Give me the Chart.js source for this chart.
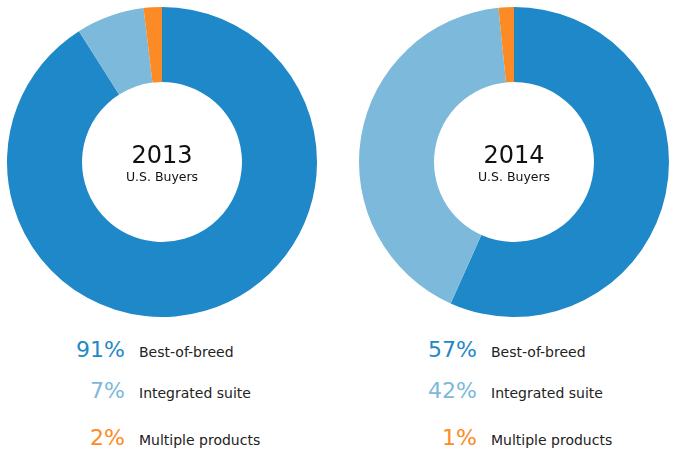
<!DOCTYPE html>
<html>
<head>
<meta charset="utf-8">
<script src="https://cdn.jsdelivr.net/npm/chart.js@4/dist/chart.umd.min.js"></script>
<style>
  body { margin: 0; background: #fff; font-family: 'DejaVu Sans', Verdana, sans-serif; }
  #wrap { position: relative; width: 675px; height: 470px; }
  canvas { position: absolute; }
  .center { position: absolute; width: 160px; text-align: center; color: #111; }
  .center .year { font-size: 24px; line-height: 24px; }
  .center .sub { font-size: 12.5px; line-height: 14px; margin-top: 3px; }
  .row { position: absolute; white-space: nowrap; }
  .row .pct { position: absolute; right: 0; font-size: 22px; bottom: 0; line-height: 22px; }
  .row .lbl { position: absolute; left: 14px; font-size: 14px; bottom: 2px; line-height: 14px; color: #222; }
</style>
</head>
<body>
<div id="wrap">
  <canvas id="c2013" width="310" height="310" style="left:7px;top:7px"></canvas>
  <canvas id="c2014" width="310" height="310" style="left:359px;top:7px"></canvas>
</div>
<script>
const categories = ['Best-of-breed', 'Integrated suite', 'Multiple products'];
const years = ['2013', '2014'];
// slice sizes as drawn
const shares2013 = [91, 7.1, 1.9];
const shares2014 = [56.7, 41.7, 1.6];
// rounded percentages printed in the legend
const labels2013 = [91, 7, 2];
const labels2014 = [57, 42, 1];
const subtitle = 'U.S. Buyers';
const colors = ['#1f88c8', '#7db9da', '#fd8b25'];

const wrap = document.getElementById('wrap');

function makeChart(id, values) {
    const existing = Chart.getChart(id);
    if (existing) existing.destroy();
    return new Chart(document.getElementById(id), {
        type: 'doughnut',
        data: { labels: categories, datasets: [{ data: values, backgroundColor: colors, borderWidth: 0 }] },
        options: {
            responsive: false,
            animation: false,
            cutout: '51.6%',
            layout: { padding: 0 },
            plugins: { legend: { display: false }, tooltip: { enabled: false } }
        }
    });
}

function addText(cx, year, values) {
    const c = document.createElement('div');
    c.className = 'center';
    c.style.left = (cx - 80) + 'px';
    c.style.top = '143px';
    c.innerHTML = '<div class="year">' + year + '</div><div class="sub">' + subtitle + '</div>';
    wrap.appendChild(c);

    const baselines = [361, 402, 449];
    values.forEach((v, i) => {
        const r = document.createElement('div');
        r.className = 'row';
        r.style.left = (cx - 37) + 'px';
        r.style.top = baselines[i] + 'px';
        r.innerHTML = '<span class="pct" style="color:' + colors[i] + '">' + v + '%</span><span class="lbl">' + categories[i] + '</span>';
        wrap.appendChild(r);
    });
}

makeChart('c2013', shares2013);
makeChart('c2014', shares2014);
addText(162, years[0], labels2013);
addText(514, years[1], labels2014);
</script>
</body>
</html>
